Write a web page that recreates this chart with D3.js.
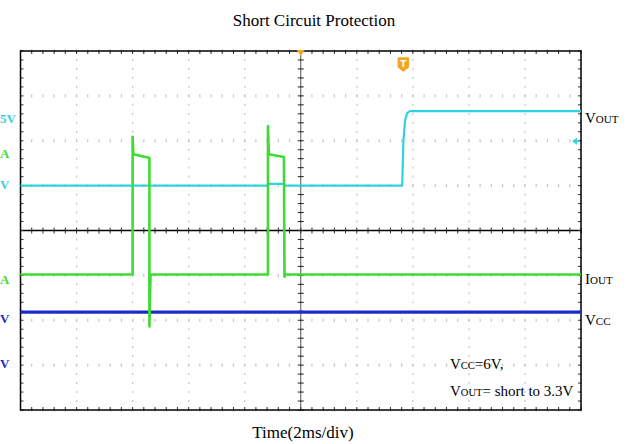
<!DOCTYPE html>
<html><head><meta charset="utf-8">
<script src="https://cdn.jsdelivr.net/npm/d3@7/dist/d3.min.js"></script>
<style>html,body{margin:0;padding:0;background:#fff;overflow:hidden}</style>
</head><body>
<svg id="c" width="640" height="444"></svg>
<script>
// ---- data (time in ms, value in divisions) ----
const timeDomain = [-10, 10];          // 2 ms/div, 10 div
const divDomain = [-4, 4];             // 8 vertical divisions
const voutT = [-10, -1.17, -1.15, -0.6, -0.58, 3.62, 3.66, 3.72, 3.8, 3.9, 10];
const voutV = [1.0, 1.0, 1.04, 1.04, 1.0, 1.0, 1.95, 2.45, 2.62, 2.66, 2.66];
const ioutT = [-10, -6.0, -6.0, -5.97, -5.42, -5.40, -5.40, -5.36, -1.17, -1.17, -1.14, -0.60, -0.58, -0.55, 10];
const ioutV = [-0.98, -0.98, 2.09, 1.70, 1.62, 1.62, -2.14, -0.98, -0.98, 2.33, 1.70, 1.64, -1.03, -0.98, -0.98];
const vccT = [-10, 10];
const vccV = [-1.82, -1.82];
const triggerTime = 3.66;
const voutGround = 1.99;
const leftLabels = [
  {text: "5V", v: 2.5, color: "#2fd3e0"},
  {text: "A", v: 1.72, color: "#3fdc33"},
  {text: "V", v: 1.04, color: "#2fd3e0"},
  {text: "A", v: -1.08, color: "#3fdc33"},
  {text: "V", v: -1.95, color: "#1a2dc8"},
  {text: "V", v: -2.95, color: "#1a2dc8"}
];
const rightLabels = [
  {big: "V", small: "OUT", v: 2.5},
  {big: "I", small: "OUT", v: -1.08},
  {big: "V", small: "CC", v: -2.0}
];
const title = "Short Circuit Protection";
const xLabel = "Time(2ms/div)";

// ---- drawing ----
const svg = d3.select("#c");
const L = 20.5, R = 581, T = 51, B = 410;
const x = d3.scaleLinear().domain(timeDomain).range([L, R]);
const y = d3.scaleLinear().domain(divDomain).range([B, T]);
const serif = "'Liberation Serif','Times New Roman',serif";

// grid dots
const g = svg.append("g");
const majorX = d3.range(-10, 10.01, 2);
const majorY = d3.range(-4, 4.01, 1);
const minorX = d3.range(-10, 10.01, 0.4);
const minorY = d3.range(-4, 4.01, 0.2);
majorX.forEach(t => {
  minorY.forEach(v => g.append("rect").attr("x", x(t) - 0.5).attr("y", y(v) - 1).attr("width", 1.2).attr("height", 2).attr("fill", "#c4c4c4"));
});
majorY.forEach(v => {
  minorX.forEach(t => g.append("rect").attr("x", x(t) - 0.6).attr("y", y(v) - 1.5).attr("width", 1.2).attr("height", 3).attr("fill", "#c4c4c4"));
});

// center axes
g.append("line").attr("x1", L).attr("x2", R).attr("y1", y(0)).attr("y2", y(0)).attr("stroke", "#000").attr("stroke-width", 1.3);
g.append("line").attr("x1", x(0)).attr("x2", x(0)).attr("y1", T).attr("y2", B).attr("stroke", "#555").attr("stroke-width", 1);
minorX.forEach(t => g.append("line").attr("x1", x(t)).attr("x2", x(t)).attr("y1", y(0) - 3).attr("y2", y(0) + 3).attr("stroke", "#333").attr("stroke-width", 1));
minorY.forEach(v => g.append("line").attr("x1", x(0) - 3).attr("x2", x(0) + 3).attr("y1", y(v)).attr("y2", y(v)).attr("stroke", "#222").attr("stroke-width", 1));
// frame ticks
minorY.forEach(v => {
  g.append("line").attr("x1", L).attr("x2", L + 3).attr("y1", y(v)).attr("y2", y(v)).attr("stroke", "#333");
  g.append("line").attr("x1", R - 3).attr("x2", R).attr("y1", y(v)).attr("y2", y(v)).attr("stroke", "#333");
});
minorX.forEach(t => {
  g.append("line").attr("x1", x(t)).attr("x2", x(t)).attr("y1", T).attr("y2", T + 3).attr("stroke", "#333");
  g.append("line").attr("x1", x(t)).attr("x2", x(t)).attr("y1", B - 3).attr("y2", B).attr("stroke", "#333");
});
// frame
svg.append("rect").attr("x", L).attr("y", T).attr("width", R - L).attr("height", B - T).attr("fill", "none").attr("stroke", "#000").attr("stroke-width", 1.5);

// traces
const line = d3.line().x(d => x(d[0])).y(d => y(d[1]));
const traces = [
  {t: vccT, v: vccV, color: "#1a2dc8", w: 3.2},
  {t: voutT, v: voutV, color: "#2fd3e0", w: 2.2},
  {t: ioutT, v: ioutV, color: "#3fdc33", w: 2.6}
];
traces.forEach(tr => {
  svg.append("path").datum(d3.zip(tr.t, tr.v)).attr("d", line)
    .attr("fill", "none").attr("stroke", tr.color).attr("stroke-width", tr.w).attr("stroke-linejoin", "round");
});
svg.append("path").datum(d3.zip(ioutT, ioutV)).attr("d", line).attr("fill", "none").attr("stroke", "#3fdc33").attr("stroke-width", 1.2);

// trigger markers
const orange = "#f4a623";
svg.append("path").attr("d", `M${x(0) - 4},${T - 1} L${x(0) + 4},${T - 1} L${x(0)},${T + 5} Z`).attr("fill", orange);
const tx = x(triggerTime);
svg.append("path").attr("d", `M${tx - 5},58 h10 v9 l-5,4 l-5,-4 Z`).attr("fill", orange).attr("stroke", orange).attr("stroke-linejoin", "round").attr("stroke-width", 1.5);
svg.append("text").attr("x", tx).attr("y", 67).attr("text-anchor", "middle").attr("font-family", "'DejaVu Sans',sans-serif").attr("font-weight", "bold").attr("font-size", 9).attr("fill", "#fff").text("T");

// channel ground arrow
const gy = y(voutGround);
svg.append("path").attr("d", `M${R - 9},${gy} l5,-3.5 v7 Z`).attr("fill", "#2fd3e0");
svg.append("line").attr("x1", R - 5).attr("x2", R - 2).attr("y1", gy).attr("y2", gy).attr("stroke", "#2fd3e0").attr("stroke-width", 1.5);

// left labels (fragments visible at the page edge)
leftLabels.forEach(d => {
  svg.append("text").attr("x", 0).attr("y", y(d.v) + 5).attr("text-anchor", "start")
    .attr("font-family", serif).attr("font-weight", "bold").attr("font-size", 13).attr("fill", d.color).text(d.text);
});

// right labels
rightLabels.forEach(d => {
  const t = svg.append("text").attr("x", 585).attr("y", y(d.v) + 5).attr("font-family", serif).attr("fill", "#000");
  t.append("tspan").attr("font-size", 15).text(d.big);
  t.append("tspan").attr("font-size", 11).text(d.small);
});

// annotation
const a1 = svg.append("text").attr("x", 450).attr("y", 369).attr("font-family", serif).attr("fill", "#000").attr("font-size", 15);
a1.append("tspan").text("V");
a1.append("tspan").attr("font-size", 10.5).text("CC");
a1.append("tspan").text("=6V,");
const a2 = svg.append("text").attr("x", 450).attr("y", 396).attr("font-family", serif).attr("fill", "#000").attr("font-size", 15);
a2.append("tspan").text("V");
a2.append("tspan").attr("font-size", 10.5).text("OUT");
a2.append("tspan").text("= short to 3.3V");

// title & axis label
svg.append("text").attr("x", 314).attr("y", 26).attr("text-anchor", "middle").attr("font-family", serif).attr("font-size", 17).text(title);
svg.append("text").attr("x", 303).attr("y", 438).attr("text-anchor", "middle").attr("font-family", serif).attr("font-size", 17).text(xLabel);
</script>
</body></html>
